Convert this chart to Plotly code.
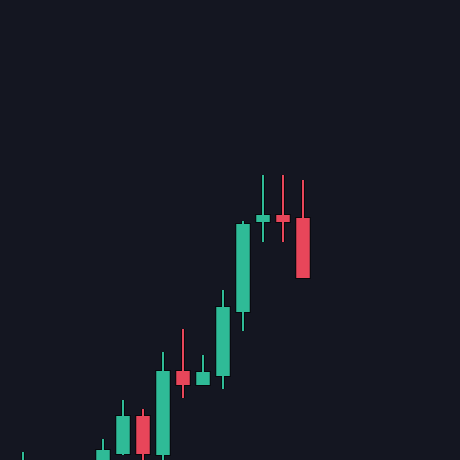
import plotly.graph_objects as go

idx = list(range(15))
opens  = [97.0, 98.0, 97.0, 98.5, 99.0, 101.75, 110.75, 101.5, 122.0, 119.0, 121.25, 137.25, 159.75, 161.0, 160.25]
highs  = [102.0, 99.5, 99.0, 99.8, 105.25, 115.0, 112.75, 127.0, 132.75, 126.25, 142.5, 159.75, 171.25, 171.25, 170.0]
lows   = [96.0, 96.5, 95.5, 97.0, 98.5, 101.25, 99.0, 99.5, 115.5, 119.0, 117.75, 132.25, 154.5, 154.5, 145.75]
closes = [99.5, 97.0, 98.5, 99.0, 102.25, 110.75, 101.75, 122.0, 119.0, 121.75, 138.0, 158.75, 161.0, 159.75, 145.75]

UP = "#2fbb97"
DOWN = "#e8465a"
BG = "#141621"
EDGE = "#07080c"

fig = go.Figure()
fig.add_trace(go.Candlestick(
    x=idx, open=opens, high=highs, low=lows, close=closes,
    increasing=dict(line=dict(color=EDGE, width=4), fillcolor=EDGE),
    decreasing=dict(line=dict(color=EDGE, width=4), fillcolor=EDGE),
    whiskerwidth=0, hoverinfo="skip", showlegend=False,
))
fig.add_trace(go.Candlestick(
    x=idx, open=opens, high=highs, low=lows, close=closes,
    increasing=dict(line=dict(color=UP, width=2), fillcolor=UP),
    decreasing=dict(line=dict(color=DOWN, width=2), fillcolor=DOWN),
    whiskerwidth=0, showlegend=False,
))
fig.update_layout(
    width=460, height=460,
    margin=dict(l=0, r=0, t=0, b=0),
    paper_bgcolor=BG, plot_bgcolor=BG,
    boxgap=0.425, boxgroupgap=0, boxmode="overlay",
    xaxis=dict(visible=False, range=[-1.15, 21.85], rangeslider=dict(visible=False)),
    yaxis=dict(visible=False, range=[100, 215]),
    showlegend=False,
)
fig.write_html(
    "out.html",
    config={"displayModeBar": False},
    post_script="document.body.style.margin='0';document.body.style.background='#141621';",
)
